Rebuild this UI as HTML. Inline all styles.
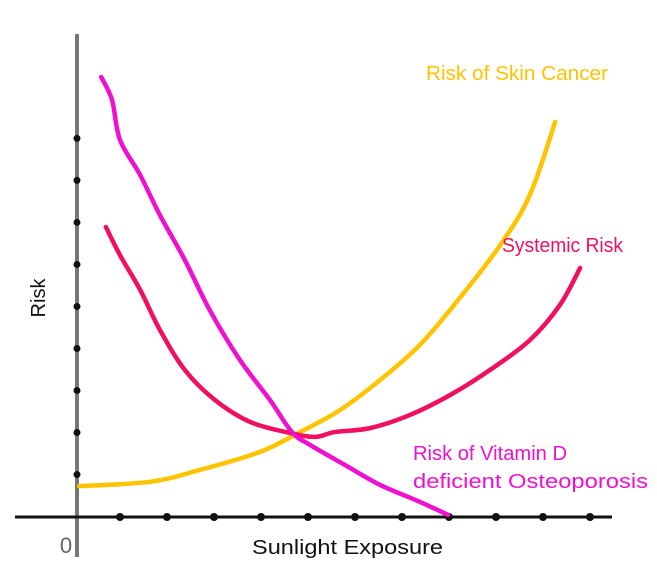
<!DOCTYPE html>
<html><head><meta charset="utf-8"><style>
body{margin:0;background:#fff;}
svg{display:block;font-family:"Liberation Sans",sans-serif;}
</style></head><body>
<svg id="chart" width="657" height="585">
<line x1="77" y1="34" x2="77" y2="557" stroke="#777" stroke-width="4"/>
<line x1="15" y1="517" x2="612" y2="517" stroke="#111" stroke-width="3"/>
<g id="ticks"></g>
<g id="series"></g>
<text x="66" y="553" font-size="22" fill="#666" text-anchor="middle">0</text>
<text x="252" y="554" font-size="20.5" fill="#111" textLength="191" lengthAdjust="spacingAndGlyphs">Sunlight Exposure</text>
<text transform="translate(45,298) rotate(-90)" font-size="20" fill="#111" text-anchor="middle">Risk</text>
<text x="426" y="80" font-size="20" fill="#FFC400" textLength="182" lengthAdjust="spacingAndGlyphs">Risk of Skin Cancer</text>
<text x="502" y="252" font-size="20" fill="#F0105F" textLength="121" lengthAdjust="spacingAndGlyphs">Systemic Risk</text>
<text x="413" y="460" font-size="20" fill="#F010D0" textLength="154" lengthAdjust="spacingAndGlyphs">Risk of Vitamin D</text>
<text x="413" y="488" font-size="20" fill="#F010D0" textLength="235" lengthAdjust="spacingAndGlyphs">deficient Osteoporosis</text>
</svg>
<script>
const xTicks=[1,2,3,4,5,6,7,8,9,10,11];
const yTicks=[1,2,3,4,5,6,7,8,9];
const osteoX=[0.6,0.83,1.0,1.43,1.85,2.38,2.91,3.55,4.19,4.66,5.04,5.79,6.53,7.28,7.98];
const osteoY=[10.0,9.48,8.57,7.77,6.86,5.84,4.70,3.57,2.66,1.93,1.64,1.18,0.73,0.39,0.05];
const sysX=[0.70,1.0,1.43,1.85,2.38,3.02,3.77,4.62,5.15,5.57,6.32,7.17,8.02,8.87,9.72,10.36,10.79];
const sysY=[6.59,5.95,5.16,4.25,3.34,2.66,2.16,1.91,1.82,1.93,2.02,2.32,2.77,3.34,4.02,4.82,5.66];
const skinX=[0.13,1.64,2.70,3.98,4.83,5.68,6.53,7.38,8.23,9.09,9.72,10.26];
const skinY=[0.70,0.80,1.07,1.48,1.93,2.43,3.11,3.91,4.98,6.18,7.32,8.98];
const NS="http://www.w3.org/2000/svg";
function sx(v){return 73+v*47;}
function sy(v){return 517-v*44;}
const tg=document.getElementById('ticks');
xTicks.forEach(t=>{const c=document.createElementNS(NS,'circle');c.setAttribute('cx',sx(t));c.setAttribute('cy',517);c.setAttribute('r',4);c.setAttribute('fill','#111');


tg.appendChild(c);});
yTicks.forEach((t,i)=>{const c=document.createElementNS(NS,'circle');c.setAttribute('cx',77);c.setAttribute('cy',sy(t*0.955+0.01));c.setAttribute('r',3.5);c.setAttribute('fill','#111');


tg.appendChild(c);});
function curve(xs,ys){const p=xs.map((x,i)=>[sx(x),sy(ys[i])]);let d='M'+p[0][0]+','+p[0][1];
for(let i=0;i<p.length-1;i++){const p0=p[i-1]||p[i],p1=p[i],p2=p[i+1],p3=p[i+2]||p2;
d+=' C'+(p1[0]+(p2[0]-p0[0])/6)+','+(p1[1]+(p2[1]-p0[1])/6)+' '+(p2[0]-(p3[0]-p1[0])/6)+','+(p2[1]-(p3[1]-p1[1])/6)+' '+p2[0]+','+p2[1];}return d;}
const sg=document.getElementById('series');
[[skinX,skinY,'#FFC400','skin-cancer-line'],[sysX,sysY,'#F0105F','systemic-risk-line'],[osteoX,osteoY,'#F010D0','osteoporosis-line']].forEach(s=>{
const p=document.createElementNS(NS,'path');p.setAttribute('d',curve(s[0],s[1]));p.setAttribute('fill','none');p.setAttribute('stroke',s[2]);p.setAttribute('stroke-width',4.5);p.setAttribute('stroke-linecap','round');p.setAttribute('stroke-linejoin','round');


sg.appendChild(p);});
</script>
</body></html>
